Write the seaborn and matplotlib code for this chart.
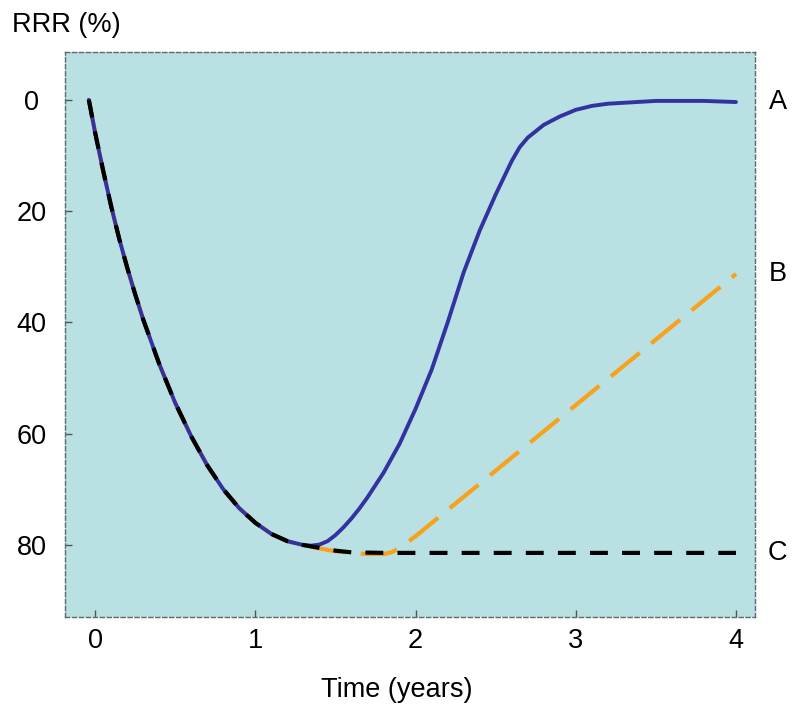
import numpy as np
import pandas as pd
import matplotlib
matplotlib.use("Agg")
import matplotlib.pyplot as plt
import seaborn as sns

# curve values (time in years, RRR in %)
t_common = [-0.04, 0.0, 0.05, 0.1, 0.15, 0.2, 0.25, 0.3, 0.4, 0.5, 0.6, 0.7, 0.8,
            0.9, 1.0, 1.1, 1.2, 1.3]
rrr_common = [0, 6, 12.8, 19.2, 25, 30.2, 35, 39.5, 47.5, 54.5, 60.5, 65.7, 70,
              73.4, 76, 78, 79.3, 80]

t_a = [1.35, 1.4, 1.45, 1.5, 1.55, 1.6, 1.65, 1.7, 1.8, 1.9, 2.0, 2.1, 2.2, 2.3, 2.4,
       2.5, 2.6, 2.65, 2.7, 2.8, 2.9, 3.0, 3.1, 3.2, 3.5, 3.8, 4.0]
rrr_a = [80.1, 79.9, 79.3, 78.2, 76.8, 75.2, 73.4, 71.4, 67, 61.8, 55.5, 48.5, 40, 31,
         23.5, 17, 11, 8.5, 6.8, 4.5, 3, 1.8, 1.1, 0.7, 0.2, 0.2, 0.4]

t_b = [1.4, 1.5, 1.6, 1.7, 1.8, 1.85, 1.9, 2.0, 4.0]
rrr_b = [80.6, 81.1, 81.4, 81.6, 81.6, 81.3, 80.5, 78.4, 31.3]

t_c = [1.4, 1.5, 1.6, 1.8, 2.0, 3.0, 4.0]
rrr_c = [80.5, 81.0, 81.3, 81.4, 81.4, 81.4, 81.4]

end_labels = ["A", "B", "C"]
end_values = [0.4, 31.3, 81.4]

xticks = [0, 1, 2, 3, 4]
yticks = [0, 20, 40, 60, 80]

line_a = pd.DataFrame({"t": t_common + t_a, "rrr": rrr_common + rrr_a})
line_b = pd.DataFrame({"t": t_common + t_b, "rrr": rrr_common + rrr_b})
line_c = pd.DataFrame({"t": t_common + t_c, "rrr": rrr_common + rrr_c})

sns.set_style("white")
plt.rcParams["font.family"] = ["Liberation Sans", "DejaVu Sans"]
plt.rcParams["text.color"] = "black"
plt.rcParams["axes.labelcolor"] = "black"
plt.rcParams["xtick.color"] = "black"
plt.rcParams["ytick.color"] = "black"

fig = plt.figure(figsize=(8, 7.19), dpi=100)
ax = fig.add_axes([0.081, 0.142, 0.863, 0.786])
ax.set_facecolor("#b9e0e3")

sns.lineplot(data=line_b, x="t", y="rrr", ax=ax, color="#f8a11a", lw=3,
             linestyle=(0, (8.9, 3.6)), sort=False, zorder=2)
sns.lineplot(data=line_a, x="t", y="rrr", ax=ax, color="#3232a0", lw=2.8,
             sort=False, zorder=3)
sns.lineplot(data=line_c, x="t", y="rrr", ax=ax, color="black", lw=3,
             linestyle=(0, (4.3, 3.4)), sort=False, zorder=4)

ax.set_xlim(-0.19, 4.12)
ax.set_ylim(92.9, -8.63)
ax.set_xticks(xticks)
ax.set_yticks(yticks)
ax.tick_params(bottom=True, left=True, direction="in", length=5, width=1,
               color="#555555", labelsize=19.5)
ax.tick_params(axis="x", pad=8)
ax.tick_params(axis="y", pad=24)
for lbl in ax.get_yticklabels():
    lbl.set_horizontalalignment("center")
ax.set_xlabel("Time (years)", fontsize=19.5)
ax.xaxis.set_label_coords(0.481, -0.129)
ax.xaxis.label.set_verticalalignment("center")
ax.set_ylabel("")

for side in ax.spines.values():
    side.set_visible(True)
    side.set_color("#5a6a6a")
    side.set_linestyle((0, (3, 2)))
    side.set_linewidth(1)

for lab, val in zip(end_labels, end_values):
    ax.text(4.26, val, lab, fontsize=19.5, ha="center", va="center")

fig.text(0.015, 0.965, "RRR (%)", fontsize=19.5, ha="left", va="center")

fig.savefig("out.png", dpi=100)
